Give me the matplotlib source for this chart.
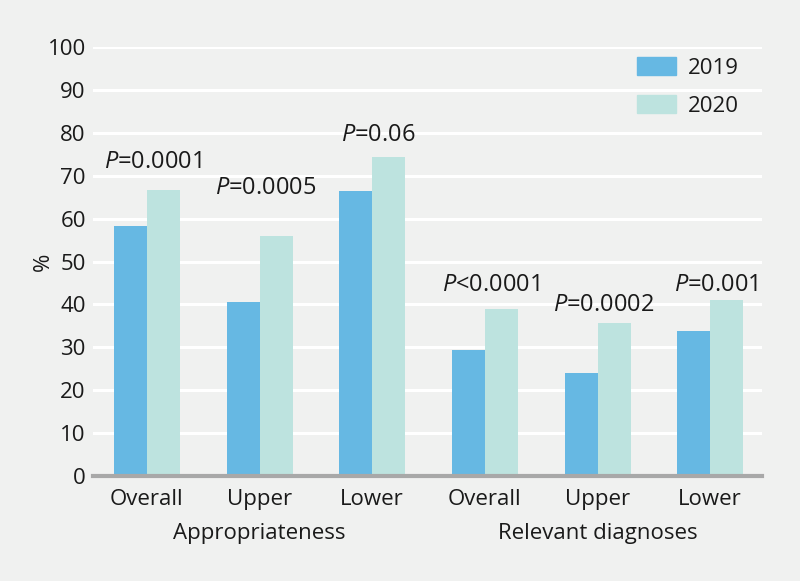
import matplotlib
matplotlib.use("Agg")
import matplotlib.pyplot as plt
from matplotlib.patches import Patch
import numpy as np

FONT = "Open Sans"
plt.rcParams["font.family"] = [FONT, "DejaVu Sans"]
plt.rcParams["mathtext.fontset"] = "custom"
plt.rcParams["mathtext.rm"] = FONT
plt.rcParams["mathtext.it"] = FONT + ":italic"

BG = "#f0f1f0"
BLUE = "#66b8e3"
GREEN = "#bde3df"
TEXT = "#1a1a1a"

categories = ["Overall", "Upper", "Lower", "Overall", "Upper", "Lower"]
groups = ["Appropriateness", "Relevant diagnoses"]
values_2019 = [58.2, 40.6, 66.4, 29.4, 24.0, 33.8]
values_2020 = [66.7, 56.0, 74.4, 38.9, 35.7, 41.0]
p_labels = ["$P$=0.0001", "$P$=0.0005", "$P$=0.06",
            "$P$<0.0001", "$P$=0.0002", "$P$=0.001"]
p_label_y = [73.2, 67.1, 79.5, 44.5, 39.9, 44.5]
y_ticks = list(range(0, 101, 10))

FS = 16

fig = plt.figure(figsize=(8.0, 5.81), dpi=100, facecolor=BG)
ax = fig.add_axes([0.116, 0.1807, 0.8365, 0.7383])
ax.set_facecolor(BG)

x = np.arange(len(categories))
width = 0.293
ax.bar(x - width / 2, values_2019, width, color=BLUE, zorder=3)
ax.bar(x + width / 2, values_2020, width, color=GREEN, zorder=3)

for xi, label, ly in zip(x, p_labels, p_label_y):
    ax.text(xi + 0.05, ly, label, ha="center", va="center",
            fontsize=17, color=TEXT, zorder=4)

ax.set_xlim(-0.48, 5.46)
ax.set_ylim(0, 100)
ax.set_yticks(y_ticks)
ax.yaxis.grid(True, color="white", linewidth=2.2, zorder=0)
ax.set_axisbelow(True)
ax.set_xticks(x)
ax.set_xticklabels(categories)
ax.tick_params(axis="both", length=0, labelsize=FS, colors=TEXT)
ax.tick_params(axis="x", pad=9)
ax.tick_params(axis="y", pad=5)

for side in ["top", "right", "left"]:
    ax.spines[side].set_visible(False)
ax.spines["bottom"].set_color("#a8a8a8")
ax.spines["bottom"].set_linewidth(3)
ax.spines["bottom"].set_zorder(5)

ax.set_ylabel("%", fontsize=FS, color=TEXT)
ax.yaxis.set_label_coords(-0.058, 0.5)

for gi, name in enumerate(groups):
    center = x[gi * 3:(gi + 1) * 3].mean()
    ax.text(center, -13.5, name, ha="center", va="center",
            fontsize=FS, color=TEXT, transform=ax.transData)

handles = [Patch(color=BLUE, label="2019"), Patch(color=GREEN, label="2020")]
ax.legend(handles=handles, loc="upper left", frameon=False, fontsize=FS,
          bbox_to_anchor=(626 / 800, 1 - 46 / 581), bbox_transform=fig.transFigure,
          borderpad=0, handlelength=1.75, handleheight=0.86, labelspacing=0.75,
          handletextpad=0.55, labelcolor=TEXT)

fig.savefig("out.png", dpi=100, facecolor=BG)
